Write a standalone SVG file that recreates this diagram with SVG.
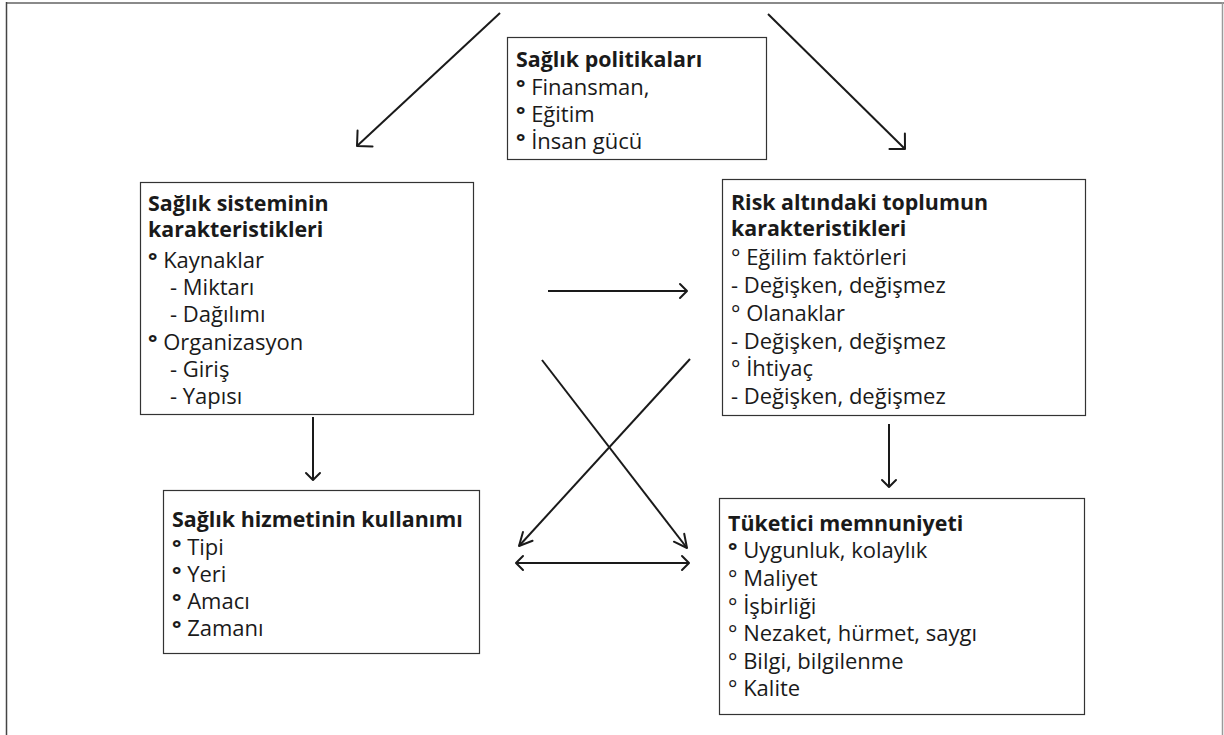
<svg xmlns="http://www.w3.org/2000/svg" width="1224" height="735" viewBox="0 0 1224 735">
  <style>
    .box { fill: #ffffff; stroke: #333333; stroke-width: 1.2; }
    .frame-top { stroke: #8a8a8a; stroke-width: 2; }
    .frame-side { stroke: #444444; stroke-width: 1.5; }
    .frame-right { stroke: #9a9a9a; stroke-width: 1.5; }
    text { font-family: "Open Sans", "Liberation Sans", sans-serif; font-size: 22px; fill: #1a1a1a; }
    .title { font-weight: bold; font-size: 21.4px; }
    .b { font-weight: bold; }
    .link { stroke: #1a1a1a; stroke-width: 2; fill: none; }
    .tip { fill: none; stroke: #1a1a1a; stroke-width: 2; stroke-linecap: round; stroke-linejoin: round; }
  </style>
  <defs>
    <!-- short open head for straight arrows -->
    <marker id="head" viewBox="-14 -10 16 20" markerWidth="16" markerHeight="20" refX="0" refY="0" orient="auto-start-reverse" markerUnits="userSpaceOnUse">
      <path class="tip" d="M-7,-7 L0,0 L-7,7"/>
    </marker>
    <!-- wide open head for the top slanted arrows -->
    <marker id="head-wide" viewBox="-16 -14 18 28" markerWidth="18" markerHeight="28" refX="0" refY="0" orient="auto" markerUnits="userSpaceOnUse">
      <path class="tip" d="M-11,-11 L0,0 L-11,11"/>
    </marker>
    <!-- narrow open head for the crossing arrows -->
    <marker id="head-narrow" viewBox="-16 -10 18 20" markerWidth="18" markerHeight="20" refX="0" refY="0" orient="auto" markerUnits="userSpaceOnUse">
      <path class="tip" d="M-13,-6.5 L0,0 L-13,6.5"/>
    </marker>
  </defs>

  <!-- page frame -->
  <g id="frame">
    <line class="frame-top" x1="6" y1="3" x2="1224" y2="3"/>
    <line class="frame-side" x1="6.5" y1="2" x2="6.5" y2="735"/>
    <line class="frame-right" x1="1222.5" y1="2" x2="1222.5" y2="735"/>
  </g>

  <!-- connectors -->
  <g id="connectors">
    <line class="link" x1="500" y1="13" x2="357" y2="146" marker-end="url(#head-wide)"/>
    <line class="link" x1="768" y1="14" x2="905" y2="149" marker-end="url(#head-wide)"/>
    <line class="link" x1="313" y1="417" x2="313" y2="480" marker-end="url(#head)"/>
    <line class="link" x1="889" y1="424" x2="889" y2="487" marker-end="url(#head)"/>
    <line class="link" x1="548" y1="291" x2="687" y2="291" marker-end="url(#head)"/>
    <line class="link" x1="542" y1="360" x2="687" y2="548" marker-end="url(#head-narrow)"/>
    <line class="link" x1="690" y1="359" x2="519" y2="546" marker-end="url(#head-narrow)"/>
    <line class="link" x1="516" y1="563" x2="689" y2="563" marker-start="url(#head)" marker-end="url(#head)"/>
  </g>

  <!-- health policies -->
  <g id="node-policies">
    <rect class="box" x="507.5" y="37.5" width="259" height="122"/>
    <text class="title" x="516" y="67">Sağlık politikaları</text>
    <text x="516" y="95"><tspan class="b">°</tspan> Finansman,</text>
    <text x="516" y="122"><tspan class="b">°</tspan> Eğitim</text>
    <text x="516" y="149"><tspan class="b">°</tspan> İnsan gücü</text>
  </g>

  <!-- health system characteristics -->
  <g id="node-system">
    <rect class="box" x="140.5" y="182.5" width="333" height="232"/>
    <text class="title" x="148" y="211">Sağlık sisteminin</text>
    <text class="title" x="148" y="237">karakteristikleri</text>
    <text x="148" y="268"><tspan class="b">°</tspan> Kaynaklar</text>
    <text x="170" y="295">- Miktarı</text>
    <text x="170" y="322">- Dağılımı</text>
    <text x="148" y="350"><tspan class="b">°</tspan> Organizasyon</text>
    <text x="170" y="377">- Giriş</text>
    <text x="170" y="404">- Yapısı</text>
  </g>

  <!-- population at risk -->
  <g id="node-population">
    <rect class="box" x="722.5" y="179.5" width="363" height="236"/>
    <text class="title" x="731" y="210">Risk altındaki toplumun</text>
    <text class="title" x="731" y="236">karakteristikleri</text>
    <text x="731" y="265">° Eğilim faktörleri</text>
    <text x="731" y="293">- Değişken, değişmez</text>
    <text x="731" y="321">° Olanaklar</text>
    <text x="731" y="349">- Değişken, değişmez</text>
    <text x="731" y="376">° İhtiyaç</text>
    <text x="731" y="404">- Değişken, değişmez</text>
  </g>

  <!-- use of health services -->
  <g id="node-use">
    <rect class="box" x="163.5" y="490.5" width="316" height="163"/>
    <text class="title" x="172" y="527">Sağlık hizmetinin kullanımı</text>
    <text x="172" y="555"><tspan class="b">°</tspan> Tipi</text>
    <text x="172" y="582"><tspan class="b">°</tspan>  Yeri</text>
    <text x="172" y="609"><tspan class="b">°</tspan> Amacı</text>
    <text x="172" y="636"><tspan class="b">°</tspan> Zamanı</text>
  </g>

  <!-- consumer satisfaction -->
  <g id="node-satisfaction">
    <rect class="box" x="719.5" y="498.5" width="365" height="216"/>
    <text class="title" x="728" y="531">Tüketici memnuniyeti</text>
    <text x="728" y="558"><tspan class="b">°</tspan> Uygunluk, kolaylık</text>
    <text x="728" y="586">° Maliyet</text>
    <text x="728" y="614">° İşbirliği</text>
    <text x="728" y="641">° Nezaket, hürmet, saygı</text>
    <text x="728" y="669">° Bilgi, bilgilenme</text>
    <text x="728" y="696">° Kalite</text>
  </g>
</svg>
